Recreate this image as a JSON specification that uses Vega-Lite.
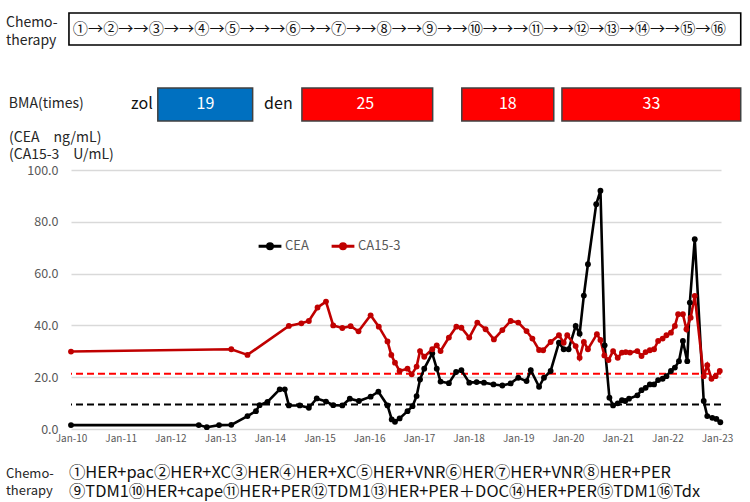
{
  "$schema": "https://vega.github.io/schema/vega-lite/v6.json",
  "background": "white",
  "padding": {"left": 5, "top": 12, "right": 5, "bottom": 0},
  "spacing": 8,
  "config": {"view": {"stroke": null}, "font": "Noto Sans CJK JP"},
  "datasets": {
    "chemoBox": [
      {"start": "2009-12-17", "end": "2023-06-24", "textAt": "2016-08-10", "sequence": "①→②→→③→→④→⑤→→→⑥→→⑦→→⑧→→⑨→→⑩→→→⑪→→⑫→⑬→⑭→→⑮→⑯", "labelAt": "2008-09-10", "label": "Chemo-\ntherapy"}
    ],
    "bma": [
      {"agent": "zol", "start": "2011-10-01", "end": "2013-08-28", "mid": "2012-09-15", "times": "19"},
      {"agent": "den", "start": "2014-08-25", "end": "2017-04-12", "mid": "2015-12-04", "times": "25"},
      {"agent": "den", "start": "2017-11-12", "end": "2019-09-19", "mid": "2018-10-16", "times": "18"},
      {"agent": "den", "start": "2019-11-18", "end": "2023-06-24", "mid": "2021-09-06", "times": "33"}
    ],
    "bmaLabels": [
      {"at": "2008-10-01", "text": "BMA(times)", "kind": "title"},
      {"at": "2011-08-25", "text": "zol", "kind": "agent"},
      {"at": "2014-06-18", "text": "den", "kind": "agent"}
    ],
    "cutoffs": [
      {"marker": "CEA", "cutoff": 9.5},
      {"marker": "CA15-3", "cutoff": 21.3}
    ],
    "regimens": [
      {"listAt": "2009-12-17", "list": "①HER+pac②HER+XC③HER④HER+XC⑤HER+VNR⑥HER⑦HER+VNR⑧HER+PER\n⑨TDM1⑩HER+cape⑪HER+PER⑫TDM1⑬HER+PER＋DOC⑭HER+PER⑮TDM1⑯Tdx", "labelAt": "2008-09-10", "label": "Chemo-\ntherapy"}
    ],
    "markers": [
      {"series": "CEA", "date": "2010-01-01", "value": 1.5},
      {"series": "CEA", "date": "2012-07-28", "value": 1.5},
      {"series": "CEA", "date": "2012-09-25", "value": 0.7},
      {"series": "CEA", "date": "2012-12-24", "value": 1.5},
      {"series": "CEA", "date": "2013-03-24", "value": 1.6},
      {"series": "CEA", "date": "2013-07-21", "value": 5.0},
      {"series": "CEA", "date": "2013-09-21", "value": 6.9},
      {"series": "CEA", "date": "2013-10-18", "value": 9.2},
      {"series": "CEA", "date": "2013-12-15", "value": 10.5},
      {"series": "CEA", "date": "2014-03-15", "value": 15.3},
      {"series": "CEA", "date": "2014-04-21", "value": 15.3},
      {"series": "CEA", "date": "2014-05-21", "value": 9.1},
      {"series": "CEA", "date": "2014-08-09", "value": 9.1},
      {"series": "CEA", "date": "2014-10-15", "value": 8.2},
      {"series": "CEA", "date": "2014-12-12", "value": 11.8},
      {"series": "CEA", "date": "2015-02-18", "value": 10.6},
      {"series": "CEA", "date": "2015-04-12", "value": 9.2},
      {"series": "CEA", "date": "2015-06-18", "value": 9.1},
      {"series": "CEA", "date": "2015-08-12", "value": 11.7},
      {"series": "CEA", "date": "2015-10-18", "value": 10.8},
      {"series": "CEA", "date": "2016-01-12", "value": 12.5},
      {"series": "CEA", "date": "2016-03-09", "value": 14.4},
      {"series": "CEA", "date": "2016-05-15", "value": 9.1},
      {"series": "CEA", "date": "2016-06-15", "value": 3.7},
      {"series": "CEA", "date": "2016-07-09", "value": 2.8},
      {"series": "CEA", "date": "2016-08-12", "value": 4.1},
      {"series": "CEA", "date": "2016-10-09", "value": 6.9},
      {"series": "CEA", "date": "2016-11-15", "value": 8.8},
      {"series": "CEA", "date": "2016-12-15", "value": 12.7},
      {"series": "CEA", "date": "2017-01-09", "value": 19.1},
      {"series": "CEA", "date": "2017-02-09", "value": 23.3},
      {"series": "CEA", "date": "2017-04-09", "value": 29.2},
      {"series": "CEA", "date": "2017-05-12", "value": 23.3},
      {"series": "CEA", "date": "2017-06-09", "value": 18.3},
      {"series": "CEA", "date": "2017-08-09", "value": 17.7},
      {"series": "CEA", "date": "2017-10-01", "value": 22.0},
      {"series": "CEA", "date": "2017-11-09", "value": 22.7},
      {"series": "CEA", "date": "2018-01-06", "value": 17.9},
      {"series": "CEA", "date": "2018-03-01", "value": 18.1},
      {"series": "CEA", "date": "2018-04-24", "value": 17.9},
      {"series": "CEA", "date": "2018-07-03", "value": 17.2},
      {"series": "CEA", "date": "2018-09-06", "value": 16.8},
      {"series": "CEA", "date": "2018-11-06", "value": 17.6},
      {"series": "CEA", "date": "2019-01-01", "value": 19.8},
      {"series": "CEA", "date": "2019-03-03", "value": 18.5},
      {"series": "CEA", "date": "2019-04-03", "value": 22.7},
      {"series": "CEA", "date": "2019-06-03", "value": 16.3},
      {"series": "CEA", "date": "2019-07-09", "value": 19.8},
      {"series": "CEA", "date": "2019-08-27", "value": 22.4},
      {"series": "CEA", "date": "2019-10-27", "value": 33.3},
      {"series": "CEA", "date": "2019-12-01", "value": 30.8},
      {"series": "CEA", "date": "2020-01-06", "value": 30.8},
      {"series": "CEA", "date": "2020-02-27", "value": 39.8},
      {"series": "CEA", "date": "2020-03-27", "value": 36.8},
      {"series": "CEA", "date": "2020-04-27", "value": 51.5},
      {"series": "CEA", "date": "2020-05-27", "value": 63.6},
      {"series": "CEA", "date": "2020-07-27", "value": 86.8},
      {"series": "CEA", "date": "2020-08-27", "value": 92.0},
      {"series": "CEA", "date": "2020-09-27", "value": 32.3},
      {"series": "CEA", "date": "2020-11-01", "value": 12.1},
      {"series": "CEA", "date": "2020-11-28", "value": 9.1},
      {"series": "CEA", "date": "2021-01-01", "value": 9.9},
      {"series": "CEA", "date": "2021-02-01", "value": 11.1},
      {"series": "CEA", "date": "2021-02-25", "value": 10.8},
      {"series": "CEA", "date": "2021-03-25", "value": 11.7},
      {"series": "CEA", "date": "2021-05-25", "value": 13.0},
      {"series": "CEA", "date": "2021-06-25", "value": 15.0},
      {"series": "CEA", "date": "2021-07-25", "value": 15.9},
      {"series": "CEA", "date": "2021-08-25", "value": 17.2},
      {"series": "CEA", "date": "2021-09-25", "value": 17.2},
      {"series": "CEA", "date": "2021-10-25", "value": 18.9},
      {"series": "CEA", "date": "2021-11-27", "value": 19.4},
      {"series": "CEA", "date": "2021-12-25", "value": 20.4},
      {"series": "CEA", "date": "2022-01-27", "value": 22.4},
      {"series": "CEA", "date": "2022-02-25", "value": 23.7},
      {"series": "CEA", "date": "2022-03-27", "value": 26.2},
      {"series": "CEA", "date": "2022-04-25", "value": 34.0},
      {"series": "CEA", "date": "2022-05-27", "value": 26.2},
      {"series": "CEA", "date": "2022-06-15", "value": 48.8},
      {"series": "CEA", "date": "2022-07-21", "value": 73.3},
      {"series": "CEA", "date": "2022-09-25", "value": 10.8},
      {"series": "CEA", "date": "2022-10-21", "value": 5.0},
      {"series": "CEA", "date": "2022-11-27", "value": 4.3},
      {"series": "CEA", "date": "2022-12-27", "value": 3.9},
      {"series": "CEA", "date": "2023-01-25", "value": 2.6},
      {"series": "CA15-3", "date": "2010-01-01", "value": 29.9},
      {"series": "CA15-3", "date": "2013-03-24", "value": 30.8},
      {"series": "CA15-3", "date": "2013-07-21", "value": 28.6},
      {"series": "CA15-3", "date": "2014-05-21", "value": 39.8},
      {"series": "CA15-3", "date": "2014-08-21", "value": 40.8},
      {"series": "CA15-3", "date": "2014-10-15", "value": 41.7},
      {"series": "CA15-3", "date": "2014-12-18", "value": 46.9},
      {"series": "CA15-3", "date": "2015-02-18", "value": 49.2},
      {"series": "CA15-3", "date": "2015-04-12", "value": 40.0},
      {"series": "CA15-3", "date": "2015-06-18", "value": 39.0},
      {"series": "CA15-3", "date": "2015-08-18", "value": 39.7},
      {"series": "CA15-3", "date": "2015-10-15", "value": 37.7},
      {"series": "CA15-3", "date": "2016-01-12", "value": 43.9},
      {"series": "CA15-3", "date": "2016-03-12", "value": 39.5},
      {"series": "CA15-3", "date": "2016-05-15", "value": 33.8},
      {"series": "CA15-3", "date": "2016-06-12", "value": 28.6},
      {"series": "CA15-3", "date": "2016-07-09", "value": 25.6},
      {"series": "CA15-3", "date": "2016-08-12", "value": 22.4},
      {"series": "CA15-3", "date": "2016-10-09", "value": 23.3},
      {"series": "CA15-3", "date": "2016-11-09", "value": 21.1},
      {"series": "CA15-3", "date": "2016-12-15", "value": 24.1},
      {"series": "CA15-3", "date": "2017-01-09", "value": 30.1},
      {"series": "CA15-3", "date": "2017-02-09", "value": 27.9},
      {"series": "CA15-3", "date": "2017-04-09", "value": 30.8},
      {"series": "CA15-3", "date": "2017-05-12", "value": 32.3},
      {"series": "CA15-3", "date": "2017-06-09", "value": 30.1},
      {"series": "CA15-3", "date": "2017-08-09", "value": 35.3},
      {"series": "CA15-3", "date": "2017-10-03", "value": 39.5},
      {"series": "CA15-3", "date": "2017-11-09", "value": 39.1},
      {"series": "CA15-3", "date": "2018-01-06", "value": 35.3},
      {"series": "CA15-3", "date": "2018-03-06", "value": 41.1},
      {"series": "CA15-3", "date": "2018-05-06", "value": 38.5},
      {"series": "CA15-3", "date": "2018-07-06", "value": 34.6},
      {"series": "CA15-3", "date": "2018-09-06", "value": 38.2},
      {"series": "CA15-3", "date": "2018-11-06", "value": 41.7},
      {"series": "CA15-3", "date": "2019-01-01", "value": 41.1},
      {"series": "CA15-3", "date": "2019-03-03", "value": 37.8},
      {"series": "CA15-3", "date": "2019-04-15", "value": 34.9},
      {"series": "CA15-3", "date": "2019-06-03", "value": 30.5},
      {"series": "CA15-3", "date": "2019-07-03", "value": 30.4},
      {"series": "CA15-3", "date": "2019-08-27", "value": 33.6},
      {"series": "CA15-3", "date": "2019-10-27", "value": 36.2},
      {"series": "CA15-3", "date": "2019-12-01", "value": 33.3},
      {"series": "CA15-3", "date": "2019-12-27", "value": 36.2},
      {"series": "CA15-3", "date": "2020-02-27", "value": 32.0},
      {"series": "CA15-3", "date": "2020-03-27", "value": 27.5},
      {"series": "CA15-3", "date": "2020-04-27", "value": 33.6},
      {"series": "CA15-3", "date": "2020-05-27", "value": 30.8},
      {"series": "CA15-3", "date": "2020-08-01", "value": 36.6},
      {"series": "CA15-3", "date": "2020-08-27", "value": 34.4},
      {"series": "CA15-3", "date": "2020-09-25", "value": 28.4},
      {"series": "CA15-3", "date": "2020-10-25", "value": 26.6},
      {"series": "CA15-3", "date": "2020-11-28", "value": 30.1},
      {"series": "CA15-3", "date": "2021-01-01", "value": 27.5},
      {"series": "CA15-3", "date": "2021-02-01", "value": 29.5},
      {"series": "CA15-3", "date": "2021-03-01", "value": 29.7},
      {"series": "CA15-3", "date": "2021-04-01", "value": 29.5},
      {"series": "CA15-3", "date": "2021-05-25", "value": 30.1},
      {"series": "CA15-3", "date": "2021-06-25", "value": 28.2},
      {"series": "CA15-3", "date": "2021-07-25", "value": 29.7},
      {"series": "CA15-3", "date": "2021-08-25", "value": 30.4},
      {"series": "CA15-3", "date": "2021-09-25", "value": 30.8},
      {"series": "CA15-3", "date": "2021-10-25", "value": 34.0},
      {"series": "CA15-3", "date": "2021-11-27", "value": 34.9},
      {"series": "CA15-3", "date": "2021-12-25", "value": 36.2},
      {"series": "CA15-3", "date": "2022-01-27", "value": 37.2},
      {"series": "CA15-3", "date": "2022-02-25", "value": 39.8},
      {"series": "CA15-3", "date": "2022-03-21", "value": 44.3},
      {"series": "CA15-3", "date": "2022-04-25", "value": 44.3},
      {"series": "CA15-3", "date": "2022-05-21", "value": 38.5},
      {"series": "CA15-3", "date": "2022-06-21", "value": 43.0},
      {"series": "CA15-3", "date": "2022-07-21", "value": 51.4},
      {"series": "CA15-3", "date": "2022-09-25", "value": 20.4},
      {"series": "CA15-3", "date": "2022-10-21", "value": 24.6},
      {"series": "CA15-3", "date": "2022-11-21", "value": 19.4},
      {"series": "CA15-3", "date": "2022-12-21", "value": 20.4},
      {"series": "CA15-3", "date": "2023-01-21", "value": 22.4}
    ]
  },
  "vconcat": [
    {
      "width": 650,
      "height": 32,
      "data": {"name": "chemoBox"},
      "layer": [
        {
          "mark": {"type": "rect", "fill": "white", "stroke": "black", "strokeWidth": 1.6},
          "encoding": {
            "x": {"field": "start", "type": "temporal", "axis": null,
                  "scale": {"type": "utc", "domain": [{"year": 2010, "month": 1, "date": 1, "utc": true}, {"year": 2023, "month": 1, "date": 30, "utc": true}]}},
            "x2": {"field": "end"}
          }
        },
        {
          "mark": {"type": "text", "font": "Noto Sans CJK JP", "fontSize": 15.2, "align": "center", "baseline": "middle", "color": "#111111"},
          "encoding": {
            "x": {"field": "textAt", "type": "temporal"},
            "text": {"field": "sequence"}
          }
        },
        {
          "mark": {"type": "text", "font": "Noto Sans CJK JP", "fontSize": 14, "lineHeight": 18, "lineBreak": "\n", "align": "left", "baseline": "middle", "dy": -6, "color": "#262626"},
          "encoding": {
            "x": {"field": "labelAt", "type": "temporal"},
            "text": {"field": "label"}
          }
        }
      ]
    },
    {
      "width": 650,
      "height": 67,
      "layer": [
        {
          "data": {"name": "bma"},
          "mark": {"type": "rect", "stroke": "#404040", "strokeWidth": 1.5},
          "encoding": {
            "x": {"field": "start", "type": "temporal", "axis": null,
                  "scale": {"type": "utc", "domain": [{"year": 2010, "month": 1, "date": 1, "utc": true}, {"year": 2023, "month": 1, "date": 30, "utc": true}]}},
            "x2": {"field": "end"},
            "y": {"datum": "BMA", "type": "nominal", "axis": null, "scale": {"paddingInner": 0, "paddingOuter": 0.515, "align": 0.94}},
            "fill": {"field": "agent", "type": "nominal", "legend": null, "scale": {"domain": ["zol", "den"], "range": ["#0070C0", "#FF0000"]}}
          }
        },
        {
          "data": {"name": "bma"},
          "mark": {"type": "text", "font": "Noto Sans CJK JP", "fontSize": 16, "align": "center", "baseline": "middle", "color": "white"},
          "encoding": {
            "x": {"field": "mid", "type": "temporal"},
            "y": {"datum": "BMA", "type": "nominal"},
            "text": {"field": "times"}
          }
        },
        {
          "data": {"name": "bmaLabels"},
          "transform": [{"filter": "datum.kind === 'title'"}],
          "mark": {"type": "text", "font": "Noto Sans CJK JP", "fontSize": 14, "align": "left", "baseline": "middle", "color": "#262626"},
          "encoding": {
            "x": {"field": "at", "type": "temporal"},
            "y": {"datum": "BMA", "type": "nominal"},
            "text": {"field": "text"}
          }
        },
        {
          "data": {"name": "bmaLabels"},
          "transform": [{"filter": "datum.kind === 'agent'"}],
          "mark": {"type": "text", "font": "Noto Sans CJK JP", "fontSize": 16, "align": "right", "baseline": "middle", "color": "#111111"},
          "encoding": {
            "x": {"field": "at", "type": "temporal"},
            "y": {"datum": "BMA", "type": "nominal"},
            "text": {"field": "text"}
          }
        }
      ]
    },
    {
      "width": 650,
      "height": 259,
      "title": {"text": ["(CEA　ng/mL)", "(CA15-3　U/mL)"], "anchor": "start", "frame": "group", "dx": -62, "offset": 2, "font": "Noto Sans CJK JP", "fontSize": 14, "fontWeight": "normal", "color": "#262626", "lineHeight": 17},
      "layer": [
        {
          "data": {"name": "cutoffs"},
          "transform": [{"filter": "datum.marker === 'CA15-3'"}],
          "mark": {"type": "rule", "color": "#FF0000", "strokeWidth": 2, "strokeDash": [7, 4]},
          "encoding": {
            "y": {"field": "cutoff", "type": "quantitative", "scale": {"domain": [0, 100]}}
          }
        },
        {
          "data": {"name": "cutoffs"},
          "transform": [{"filter": "datum.marker === 'CEA'"}],
          "mark": {"type": "rule", "color": "#000000", "strokeWidth": 2, "strokeDash": [7, 4]},
          "encoding": {
            "y": {"field": "cutoff", "type": "quantitative"}
          }
        },
        {
          "data": {"name": "markers"},
          "mark": {"type": "line", "strokeWidth": 2.6, "point": {"filled": true, "size": 34}},
          "encoding": {
            "x": {"field": "date", "type": "temporal",
                  "scale": {"type": "utc", "domain": [{"year": 2010, "month": 1, "date": 1, "utc": true}, {"year": 2023, "month": 1, "date": 30, "utc": true}]},
                  "axis": {"title": null, "labelExpr": "utcFormat(datum.value, '%b-%y')", "domain": false, "ticks": false, "grid": false,
                           "labelFlush": false, "labelOverlap": false, "labelBound": false,
                           "labelFontSize": 10, "labelColor": "#595959", "labelPadding": 4, "labelFont": "Noto Sans CJK JP",
                           "values": [
                             {"year": 2010, "month": 1, "date": 1, "utc": true}, {"year": 2011, "month": 1, "date": 1, "utc": true},
                             {"year": 2012, "month": 1, "date": 1, "utc": true}, {"year": 2013, "month": 1, "date": 1, "utc": true},
                             {"year": 2014, "month": 1, "date": 1, "utc": true}, {"year": 2015, "month": 1, "date": 1, "utc": true},
                             {"year": 2016, "month": 1, "date": 1, "utc": true}, {"year": 2017, "month": 1, "date": 1, "utc": true},
                             {"year": 2018, "month": 1, "date": 1, "utc": true}, {"year": 2019, "month": 1, "date": 1, "utc": true},
                             {"year": 2020, "month": 1, "date": 1, "utc": true}, {"year": 2021, "month": 1, "date": 1, "utc": true},
                             {"year": 2022, "month": 1, "date": 1, "utc": true}, {"year": 2023, "month": 1, "date": 1, "utc": true}
                           ]}},
            "y": {"field": "value", "type": "quantitative",
                  "axis": {"title": null, "values": [0, 20, 40, 60, 80, 100], "format": ".1f", "domain": false, "ticks": false,
                           "labelFontSize": 12.5, "labelColor": "#595959", "labelPadding": 13, "labelFont": "Noto Sans CJK JP",
                           "gridColor": "#d9d9d9", "gridWidth": 1.3}},
            "color": {"field": "series", "type": "nominal",
                      "scale": {"domain": ["CEA", "CA15-3"], "range": ["#000000", "#C00000"]},
                      "legend": {"title": null, "orient": "none", "legendX": 186, "legendY": 220, "direction": "horizontal",
                                 "symbolType": "M-1,0L1,0M-0.22,0a0.22,0.22 0 1,0 0.44,0a0.22,0.22 0 1,0 -0.44,0",
                                 "symbolSize": 520, "symbolStrokeWidth": 3, "labelFontSize": 13, "labelColor": "#595959",
                                 "labelFont": "Noto Sans CJK JP", "labelOffset": 2, "columnPadding": 16}}
          }
        }
      ]
    },
    {
      "width": 650,
      "height": 44,
      "data": {"name": "regimens"},
      "layer": [
        {
          "mark": {"type": "text", "font": "Noto Sans CJK JP", "fontSize": 16.4, "lineHeight": 19, "lineBreak": "\n", "align": "left", "baseline": "middle", "color": "#111111"},
          "encoding": {
            "x": {"field": "listAt", "type": "temporal", "axis": null,
                  "scale": {"type": "utc", "domain": [{"year": 2010, "month": 1, "date": 1, "utc": true}, {"year": 2023, "month": 1, "date": 30, "utc": true}]}},
            "text": {"field": "list"}
          }
        },
        {
          "mark": {"type": "text", "font": "Noto Sans CJK JP", "fontSize": 13, "lineHeight": 17, "lineBreak": "\n", "align": "left", "baseline": "middle", "dy": 1, "color": "#262626"},
          "encoding": {
            "x": {"field": "labelAt", "type": "temporal"},
            "text": {"field": "label"}
          }
        }
      ]
    }
  ]
}
